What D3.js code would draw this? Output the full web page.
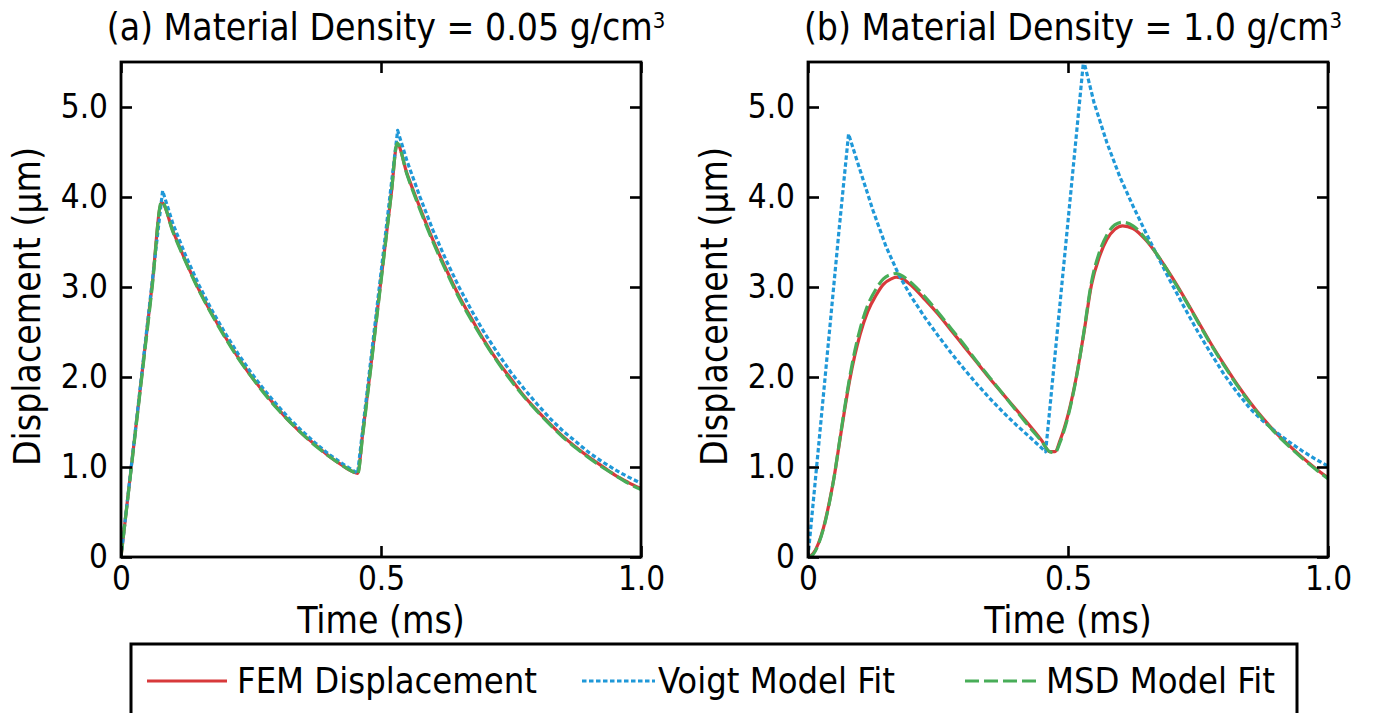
<!DOCTYPE html>
<html><head><meta charset="utf-8">
<script src="https://cdn.jsdelivr.net/npm/d3@7"></script>
<style>
body{margin:0;background:#fff}
svg{display:block}
text{font-family:"DejaVu Sans Condensed","DejaVu Sans",sans-serif;font-stretch:condensed;fill:#000}
</style></head>
<body><svg id="chart" width="1374" height="713"></svg>
<script>
// ---------- data ----------
const panelTitles = ["(a) Material Density = 0.05 g/cm", "(b) Material Density = 1.0 g/cm"];
const seriesNames = ["FEM Displacement", "Voigt Model Fit", "MSD Model Fit"];
const xTickValues = [0, 0.5, 1.0];
const xTickLabels = ["0", "0.5", "1.0"];
const yTickValues = [0, 1, 2, 3, 4, 5];
const yTickLabels = ["0", "1.0", "2.0", "3.0", "4.0", "5.0"];
const xLabel = "Time (ms)";
const yLabel = "Displacement (\u03bcm)";

// panel (a): [time ms, displacement um]
const femA = [[0,0],[0.02,1.01],[0.04,2.02],[0.06,3.03],[0.078,3.94],[0.1,3.62],[0.125,3.28],[0.15,2.97],[0.175,2.70],[0.2,2.45],[0.225,2.22],[0.25,2.01],[0.275,1.83],[0.3,1.66],[0.325,1.50],[0.35,1.36],[0.375,1.24],[0.4,1.12],[0.425,1.02],[0.445,0.95],[0.455,0.93],[0.465,1.38],[0.48,2.10],[0.5,3.08],[0.52,4.05],[0.531,4.59],[0.55,4.26],[0.575,3.88],[0.6,3.52],[0.625,3.20],[0.65,2.90],[0.675,2.64],[0.7,2.39],[0.725,2.17],[0.75,1.98],[0.775,1.79],[0.8,1.63],[0.825,1.48],[0.85,1.34],[0.875,1.22],[0.9,1.11],[0.925,1.01],[0.95,0.91],[0.975,0.83],[1.0,0.76]];
const voigtA = [[0,0],[0.02,1.02],[0.04,2.04],[0.06,3.06],[0.08,4.07],[0.1,3.70],[0.125,3.34],[0.15,3.02],[0.175,2.74],[0.2,2.49],[0.225,2.26],[0.25,2.05],[0.275,1.86],[0.3,1.69],[0.325,1.53],[0.35,1.39],[0.375,1.26],[0.4,1.14],[0.425,1.04],[0.455,0.93],[0.48,2.17],[0.5,3.16],[0.52,4.15],[0.532,4.74],[0.55,4.40],[0.575,4.00],[0.6,3.63],[0.625,3.30],[0.65,3.00],[0.675,2.73],[0.7,2.48],[0.725,2.26],[0.75,2.05],[0.775,1.87],[0.8,1.70],[0.825,1.54],[0.85,1.40],[0.875,1.28],[0.9,1.16],[0.925,1.06],[0.95,0.97],[0.975,0.89],[1.0,0.82]];
const msdA = [[0,0],[0.02,1.00],[0.04,2.00],[0.06,3.00],[0.078,3.95],[0.1,3.61],[0.125,3.27],[0.15,2.96],[0.175,2.69],[0.2,2.44],[0.225,2.21],[0.25,2.01],[0.275,1.82],[0.3,1.65],[0.325,1.50],[0.35,1.36],[0.375,1.23],[0.4,1.12],[0.425,1.02],[0.445,0.95],[0.455,0.92],[0.465,1.36],[0.48,2.08],[0.5,3.06],[0.52,4.05],[0.531,4.60],[0.55,4.25],[0.575,3.86],[0.6,3.50],[0.625,3.18],[0.65,2.88],[0.675,2.62],[0.7,2.38],[0.725,2.16],[0.75,1.96],[0.775,1.78],[0.8,1.62],[0.825,1.47],[0.85,1.33],[0.875,1.21],[0.9,1.10],[0.925,1.00],[0.95,0.91],[0.975,0.82],[1.0,0.75]];

// panel (b)
const femB = [[0,0],[0.01,0.04],[0.02,0.15],[0.03,0.33],[0.04,0.58],[0.05,0.88],[0.06,1.25],[0.07,1.62],[0.08,1.96],[0.09,2.24],[0.1,2.47],[0.115,2.73],[0.13,2.90],[0.145,3.03],[0.16,3.09],[0.17,3.11],[0.185,3.08],[0.2,3.01],[0.225,2.86],[0.25,2.70],[0.275,2.52],[0.3,2.34],[0.325,2.16],[0.35,1.98],[0.375,1.81],[0.4,1.64],[0.425,1.47],[0.45,1.29],[0.465,1.17],[0.475,1.17],[0.485,1.30],[0.5,1.58],[0.515,1.97],[0.53,2.47],[0.545,3.02],[0.56,3.33],[0.575,3.53],[0.59,3.64],[0.605,3.68],[0.625,3.65],[0.65,3.52],[0.675,3.33],[0.7,3.11],[0.725,2.87],[0.75,2.62],[0.775,2.37],[0.8,2.14],[0.825,1.92],[0.85,1.72],[0.875,1.54],[0.9,1.38],[0.925,1.24],[0.95,1.11],[0.975,0.99],[1.0,0.88]];
const voigtB = [[0,0],[0.02,1.21],[0.04,2.43],[0.06,3.65],[0.078,4.70],[0.1,4.30],[0.125,3.85],[0.15,3.45],[0.175,3.13],[0.2,2.88],[0.225,2.66],[0.25,2.46],[0.275,2.27],[0.3,2.09],[0.325,1.92],[0.35,1.76],[0.375,1.61],[0.4,1.47],[0.425,1.34],[0.457,1.17],[0.48,2.54],[0.5,3.73],[0.53,5.52],[0.55,5.05],[0.575,4.60],[0.6,4.22],[0.625,3.90],[0.65,3.60],[0.675,3.31],[0.7,3.03],[0.725,2.76],[0.75,2.50],[0.775,2.26],[0.8,2.03],[0.825,1.83],[0.85,1.65],[0.875,1.51],[0.9,1.39],[0.925,1.28],[0.95,1.18],[0.975,1.09],[1.0,1.01]];
const msdB = [[0,0],[0.01,0.03],[0.02,0.14],[0.03,0.32],[0.04,0.57],[0.05,0.88],[0.06,1.26],[0.07,1.64],[0.08,1.99],[0.09,2.29],[0.1,2.53],[0.115,2.80],[0.13,2.97],[0.145,3.09],[0.16,3.14],[0.17,3.15],[0.185,3.11],[0.2,3.04],[0.225,2.89],[0.25,2.72],[0.275,2.54],[0.3,2.36],[0.325,2.17],[0.35,1.99],[0.375,1.81],[0.4,1.63],[0.425,1.45],[0.45,1.28],[0.465,1.17],[0.475,1.16],[0.485,1.28],[0.5,1.56],[0.515,1.96],[0.53,2.48],[0.545,3.05],[0.56,3.38],[0.575,3.58],[0.59,3.69],[0.605,3.72],[0.625,3.68],[0.65,3.53],[0.675,3.33],[0.7,3.10],[0.725,2.86],[0.75,2.61],[0.775,2.36],[0.8,2.13],[0.825,1.91],[0.85,1.71],[0.875,1.53],[0.9,1.37],[0.925,1.23],[0.95,1.10],[0.975,0.98],[1.0,0.87]];

// ---------- styles ----------
const colors = ["#d8393b", "#1f98d8", "#48ad58"];
const dashes = [null, "4.5,2.5", "14,5"];
const curves = [d3.curveMonotoneX, d3.curveLinear, d3.curveMonotoneX];

const svg = d3.select("#chart");
const panels = [
  {x0:121, title: panelTitles[0], data:[femA, voigtA, msdA]},
  {x0:808, title: panelTitles[1], data:[femB, voigtB, msdB]}
];
const pw = 520, plotTop = 62, plotBottom = 557;

panels.forEach((p, pi) => {
  const x = d3.scaleLinear().domain([0, 1]).range([p.x0, p.x0 + pw]);
  const y = d3.scaleLinear().domain([0, 5.5]).range([plotBottom, plotTop]);
  const g = svg.append("g");

  g.append("clipPath").attr("id", "clip" + pi).append("rect")
    .attr("x", p.x0).attr("y", plotTop).attr("width", pw).attr("height", plotBottom - plotTop);

  const lines = g.append("g").attr("clip-path", `url(#clip${pi})`);
  p.data.forEach((ser, si) => {
    const line = d3.line().x(d => x(d[0])).y(d => y(d[1])).curve(curves[si]);
    lines.append("path").datum(ser).attr("d", line)
      .attr("fill", "none").attr("stroke", colors[si]).attr("stroke-width", 3.2)
      .attr("stroke-dasharray", dashes[si]).attr("stroke-linejoin", "round");
  });

  const tickStyle = sel => {
    sel.select(".domain").remove();
    sel.selectAll(".tick line").attr("stroke", "#000").attr("stroke-width", 2.6);
    sel.selectAll(".tick text").style("font-size", "33px");
  };

  g.append("g").attr("transform", `translate(${p.x0},0)`)
    .call(d3.axisLeft(y).tickValues(yTickValues).tickFormat((d, i) => yTickLabels[i]).tickSize(-11).tickPadding(13))
    .call(tickStyle);
  g.append("g").attr("transform", `translate(${p.x0 + pw},0)`)
    .call(d3.axisRight(y).tickValues(yTickValues).tickFormat("").tickSize(-11))
    .call(tickStyle);
  g.append("g").attr("transform", `translate(0,${plotBottom})`)
    .call(d3.axisBottom(x).tickValues(xTickValues).tickFormat((d, i) => xTickLabels[i]).tickSize(-11).tickPadding(10))
    .call(tickStyle);
  g.append("g").attr("transform", `translate(0,${plotTop})`)
    .call(d3.axisTop(x).tickValues(xTickValues).tickFormat("").tickSize(-11))
    .call(tickStyle);

  g.append("rect").attr("x", p.x0).attr("y", plotTop).attr("width", pw).attr("height", plotBottom - plotTop)
    .attr("fill", "none").attr("stroke", "#000").attr("stroke-width", 2.8);

  const t = g.append("text").attr("x", p.x0 + pw / 2 + 5).attr("y", 40)
    .attr("text-anchor", "middle").style("font-size", "37px").text(p.title);
  t.append("tspan").attr("dy", "-0.55em").style("font-size", "22px").text("3");

  g.append("text").attr("x", p.x0 + pw / 2).attr("y", 633)
    .attr("text-anchor", "middle").style("font-size", "37px").text(xLabel);

  g.append("text").attr("transform", `translate(${p.x0 - 81},${(plotTop + plotBottom) / 2 - 3}) rotate(-90)`)
    .attr("text-anchor", "middle").style("font-size", "37px").text(yLabel);
});

// ---------- legend ----------
const lg = svg.append("g");
lg.append("rect").attr("x", 131).attr("y", 644).attr("width", 1166).attr("height", 100)
  .attr("fill", "#fff").attr("stroke", "#000").attr("stroke-width", 3);
const legendLineX = [[147, 227], [582, 655], [965, 1040]];
const legendTextX = [237, 658, 1046];
seriesNames.forEach((name, i) => {
  lg.append("line").attr("x1", legendLineX[i][0]).attr("x2", legendLineX[i][1])
    .attr("y1", 681).attr("y2", 681)
    .attr("stroke", colors[i]).attr("stroke-width", 3.2).attr("stroke-dasharray", dashes[i]);
  lg.append("text").attr("x", legendTextX[i]).attr("y", 693)
    .style("font-size", "36px").text(name);
});
</script>
</body></html>
